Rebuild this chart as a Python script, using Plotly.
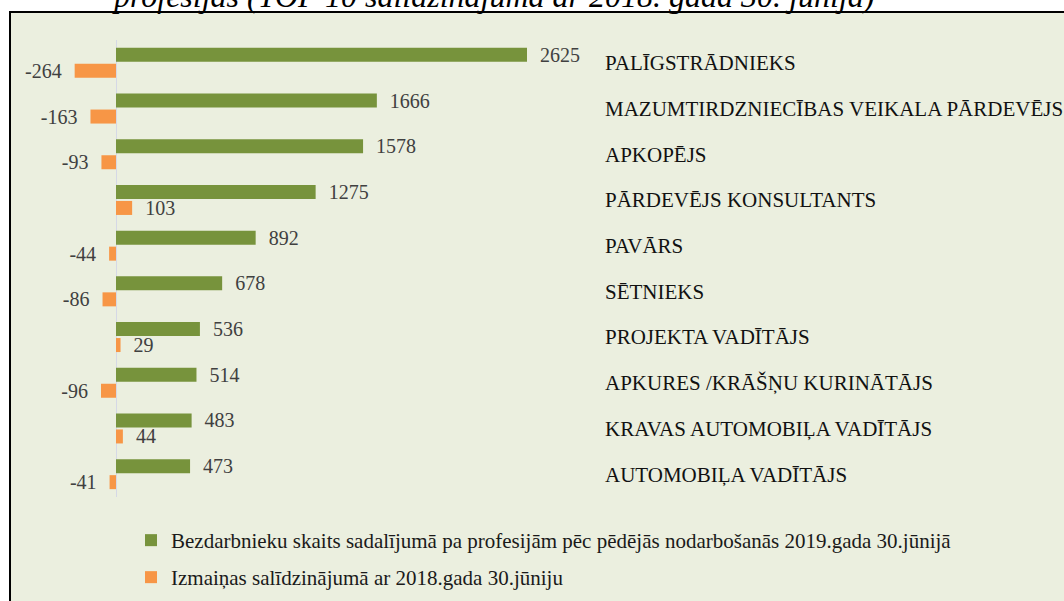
import plotly.graph_objects as go

categories = [
    "PALĪGSTRĀDNIEKS",
    "MAZUMTIRDZNIECĪBAS VEIKALA PĀRDEVĒJS",
    "APKOPĒJS",
    "PĀRDEVĒJS KONSULTANTS",
    "PAVĀRS",
    "SĒTNIEKS",
    "PROJEKTA VADĪTĀJS",
    "APKURES /KRĀŠŅU KURINĀTĀJS",
    "KRAVAS AUTOMOBIĻA VADĪTĀJS",
    "AUTOMOBIĻA VADĪTĀJS",
]
unemployed_2019 = [2625, 1666, 1578, 1275, 892, 678, 536, 514, 483, 473]
change_vs_2018 = [-264, -163, -93, 103, -44, -86, 29, -96, 44, -41]

series_names = [
    "Bezdarbnieku skaits sadalījumā pa profesijām pēc pēdējās nodarbošanās 2019.gada 30.jūnijā",
    "Izmaiņas salīdzinājumā ar 2018.gada 30.jūniju",
]
title_text = "profesijās (TOP 10 salīdzinājumā ar 2018. gada 30. jūnija)"

GREEN = "#77933C"
ORANGE = "#F79646"
FONT = "Liberation Serif, Times New Roman, serif"
NB = "\u00a0"


def lbl(v):
    return (NB * 2 + str(v)) if v >= 0 else (str(v) + NB * 2)


fig = go.Figure()
fig.add_trace(go.Bar(
    y=categories, x=unemployed_2019, orientation="h", name=series_names[0],
    legend="legend",
    marker=dict(color=GREEN, line=dict(width=0)),
    text=[lbl(v) for v in unemployed_2019], textposition="outside",
    constraintext="none", cliponaxis=False,
    textfont=dict(family=FONT, size=20, color="#404040"),
    hoverinfo="skip",
))
fig.add_trace(go.Bar(
    y=categories, x=change_vs_2018, orientation="h", name=series_names[1],
    legend="legend2",
    marker=dict(color=ORANGE, line=dict(width=0)),
    text=[lbl(v) for v in change_vs_2018], textposition="outside",
    constraintext="none", cliponaxis=False,
    textfont=dict(family=FONT, size=20, color="#404040"),
    hoverinfo="skip",
))

W, H = 1064, 601
L, R = 11, 604
T, B = 40, 497
px_per_unit = (527 - 116) / 2625.0
xmin = (L - 116) / px_per_unit
xmax = (R - 116) / px_per_unit


def py(p):
    return (B - p) / (B - T)


def pxp(p):
    return (p - L) / (R - L)


legend_style = dict(
    orientation="v", xanchor="left", yanchor="top",
    font=dict(family=FONT, size=21, color="#1a1a1a"),
    bgcolor="rgba(0,0,0,0)",
)

fig.update_layout(
    width=W, height=H,
    margin=dict(l=L, r=W - R, t=T, b=H - B, pad=0, autoexpand=False),
    paper_bgcolor="white",
    plot_bgcolor="rgba(0,0,0,0)",
    barmode="group",
    bargap=0.30,
    bargroupgap=0.125,
    showlegend=True,
    legend=dict(x=pxp(131), y=py(520), **legend_style),
    legend2=dict(x=pxp(131), y=py(557), **legend_style),
    xaxis=dict(
        range=[xmin, xmax], showgrid=False, showticklabels=False,
        zeroline=True, zerolinecolor="#D5D8E6", zerolinewidth=1,
        showline=False, ticks="", automargin=False,
    ),
    yaxis=dict(
        autorange="reversed", side="right", showgrid=False, showline=False,
        ticks="", zeroline=False, automargin=False,
        tickfont=dict(family=FONT, size=21, color="#111111"),
    ),
    shapes=[dict(
        type="rect", xref="paper", yref="paper",
        x0=pxp(10), x1=pxp(1080),
        y0=py(620), y1=py(12),
        fillcolor="#EBEFDF", line=dict(color="#000000", width=2),
        layer="below",
    )],
    annotations=[dict(
        text=title_text, xref="paper", yref="paper",
        x=pxp(110), xanchor="left",
        y=py(-4), yanchor="middle",
        showarrow=False,
        font=dict(family=FONT, size=32, color="#000000", style="italic"),
    )],
)

fig.write_html("out.html", config={"displayModeBar": False},
               post_script="document.body.style.margin='0';")
